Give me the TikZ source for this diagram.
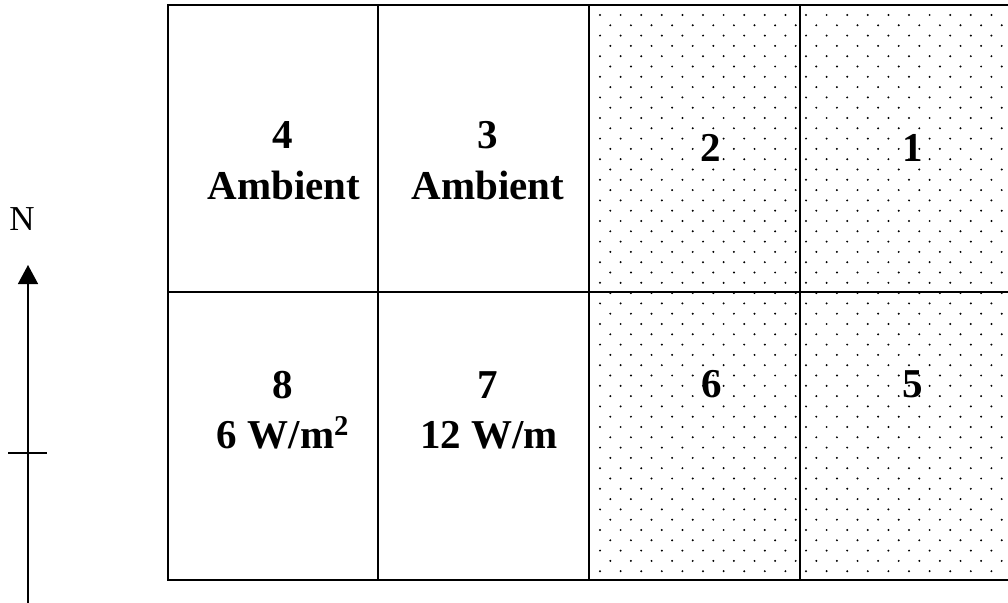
\documentclass[tikz,border=0pt]{standalone}
\usepackage{fontspec}
\setmainfont{Liberation Serif}
\usetikzlibrary{arrows.meta}
\begin{document}
\begin{tikzpicture}[x=1pt,y=-1pt,
  gridline/.style={line width=1.6pt, line cap=rect},
  lbl/.style={font=\fontsize{41}{48}\selectfont\bfseries, anchor=base, inner sep=0pt},
  axis/.style={line width=1.5pt}]
\useasboundingbox (0,0) rectangle (1008,602);
% dotted shading of cells 1, 2, 5, 6
\begin{scope}
  \clip (589,5) rectangle (1010,580);
  \foreach \r in {0,...,55}{
    \pgfmathsetmacro\yy{15+10.3*\r}
    \pgfmathsetmacro\xo{600+10.3*mod(\r,2)}
    \foreach \c in {0,...,20}{
      \fill (\xo+20.6*\c,\yy) circle (1.1pt);
    }
  }
\end{scope}
% grid
\draw[gridline] (168,5) -- (1012,5);
\draw[gridline] (168,292) -- (1012,292);
\draw[gridline] (168,580) -- (1012,580);
\draw[gridline] (168,5) -- (168,580);
\draw[gridline] (378,5) -- (378,580);
\draw[gridline] (589,5) -- (589,580);
\draw[gridline] (800,5) -- (800,580);
% labels
\node[lbl] (n4) at (283,148) {4};
\node[lbl] (a4) at (284,199) {Ambient};
\node[lbl] (n3) at (488,148) {3};
\node[lbl] (a3) at (488,199) {Ambient};
\node[lbl] (n2) at (711,161) {2};
\node[lbl] (n1) at (913,161) {1};
\node[lbl] (n8) at (283,398) {8};
\node[lbl] (q8) at (283,448) {6 W/m\raisebox{3pt}{\textsuperscript{2}}};
\node[lbl] (n7) at (488,398) {7};
\node[lbl] (q7) at (489,448) {12 W/m};
\node[lbl] (n6) at (712,397) {6};
\node[lbl] (n5) at (913,397) {5};
% north arrow
\node[font=\fontsize{35}{40}\selectfont, anchor=base, inner sep=0pt] (N) at (22,230) {N};
\coordinate (as) at (28,604);
\coordinate (at) at (28,265);
\draw[axis,-{Triangle[length=19pt,width=20pt]}] (as) -- (at);
\coordinate (tl) at (8,453);
\coordinate (tr) at (47,453);
\draw[axis] (tl) -- (tr);
\end{tikzpicture}
\end{document}
